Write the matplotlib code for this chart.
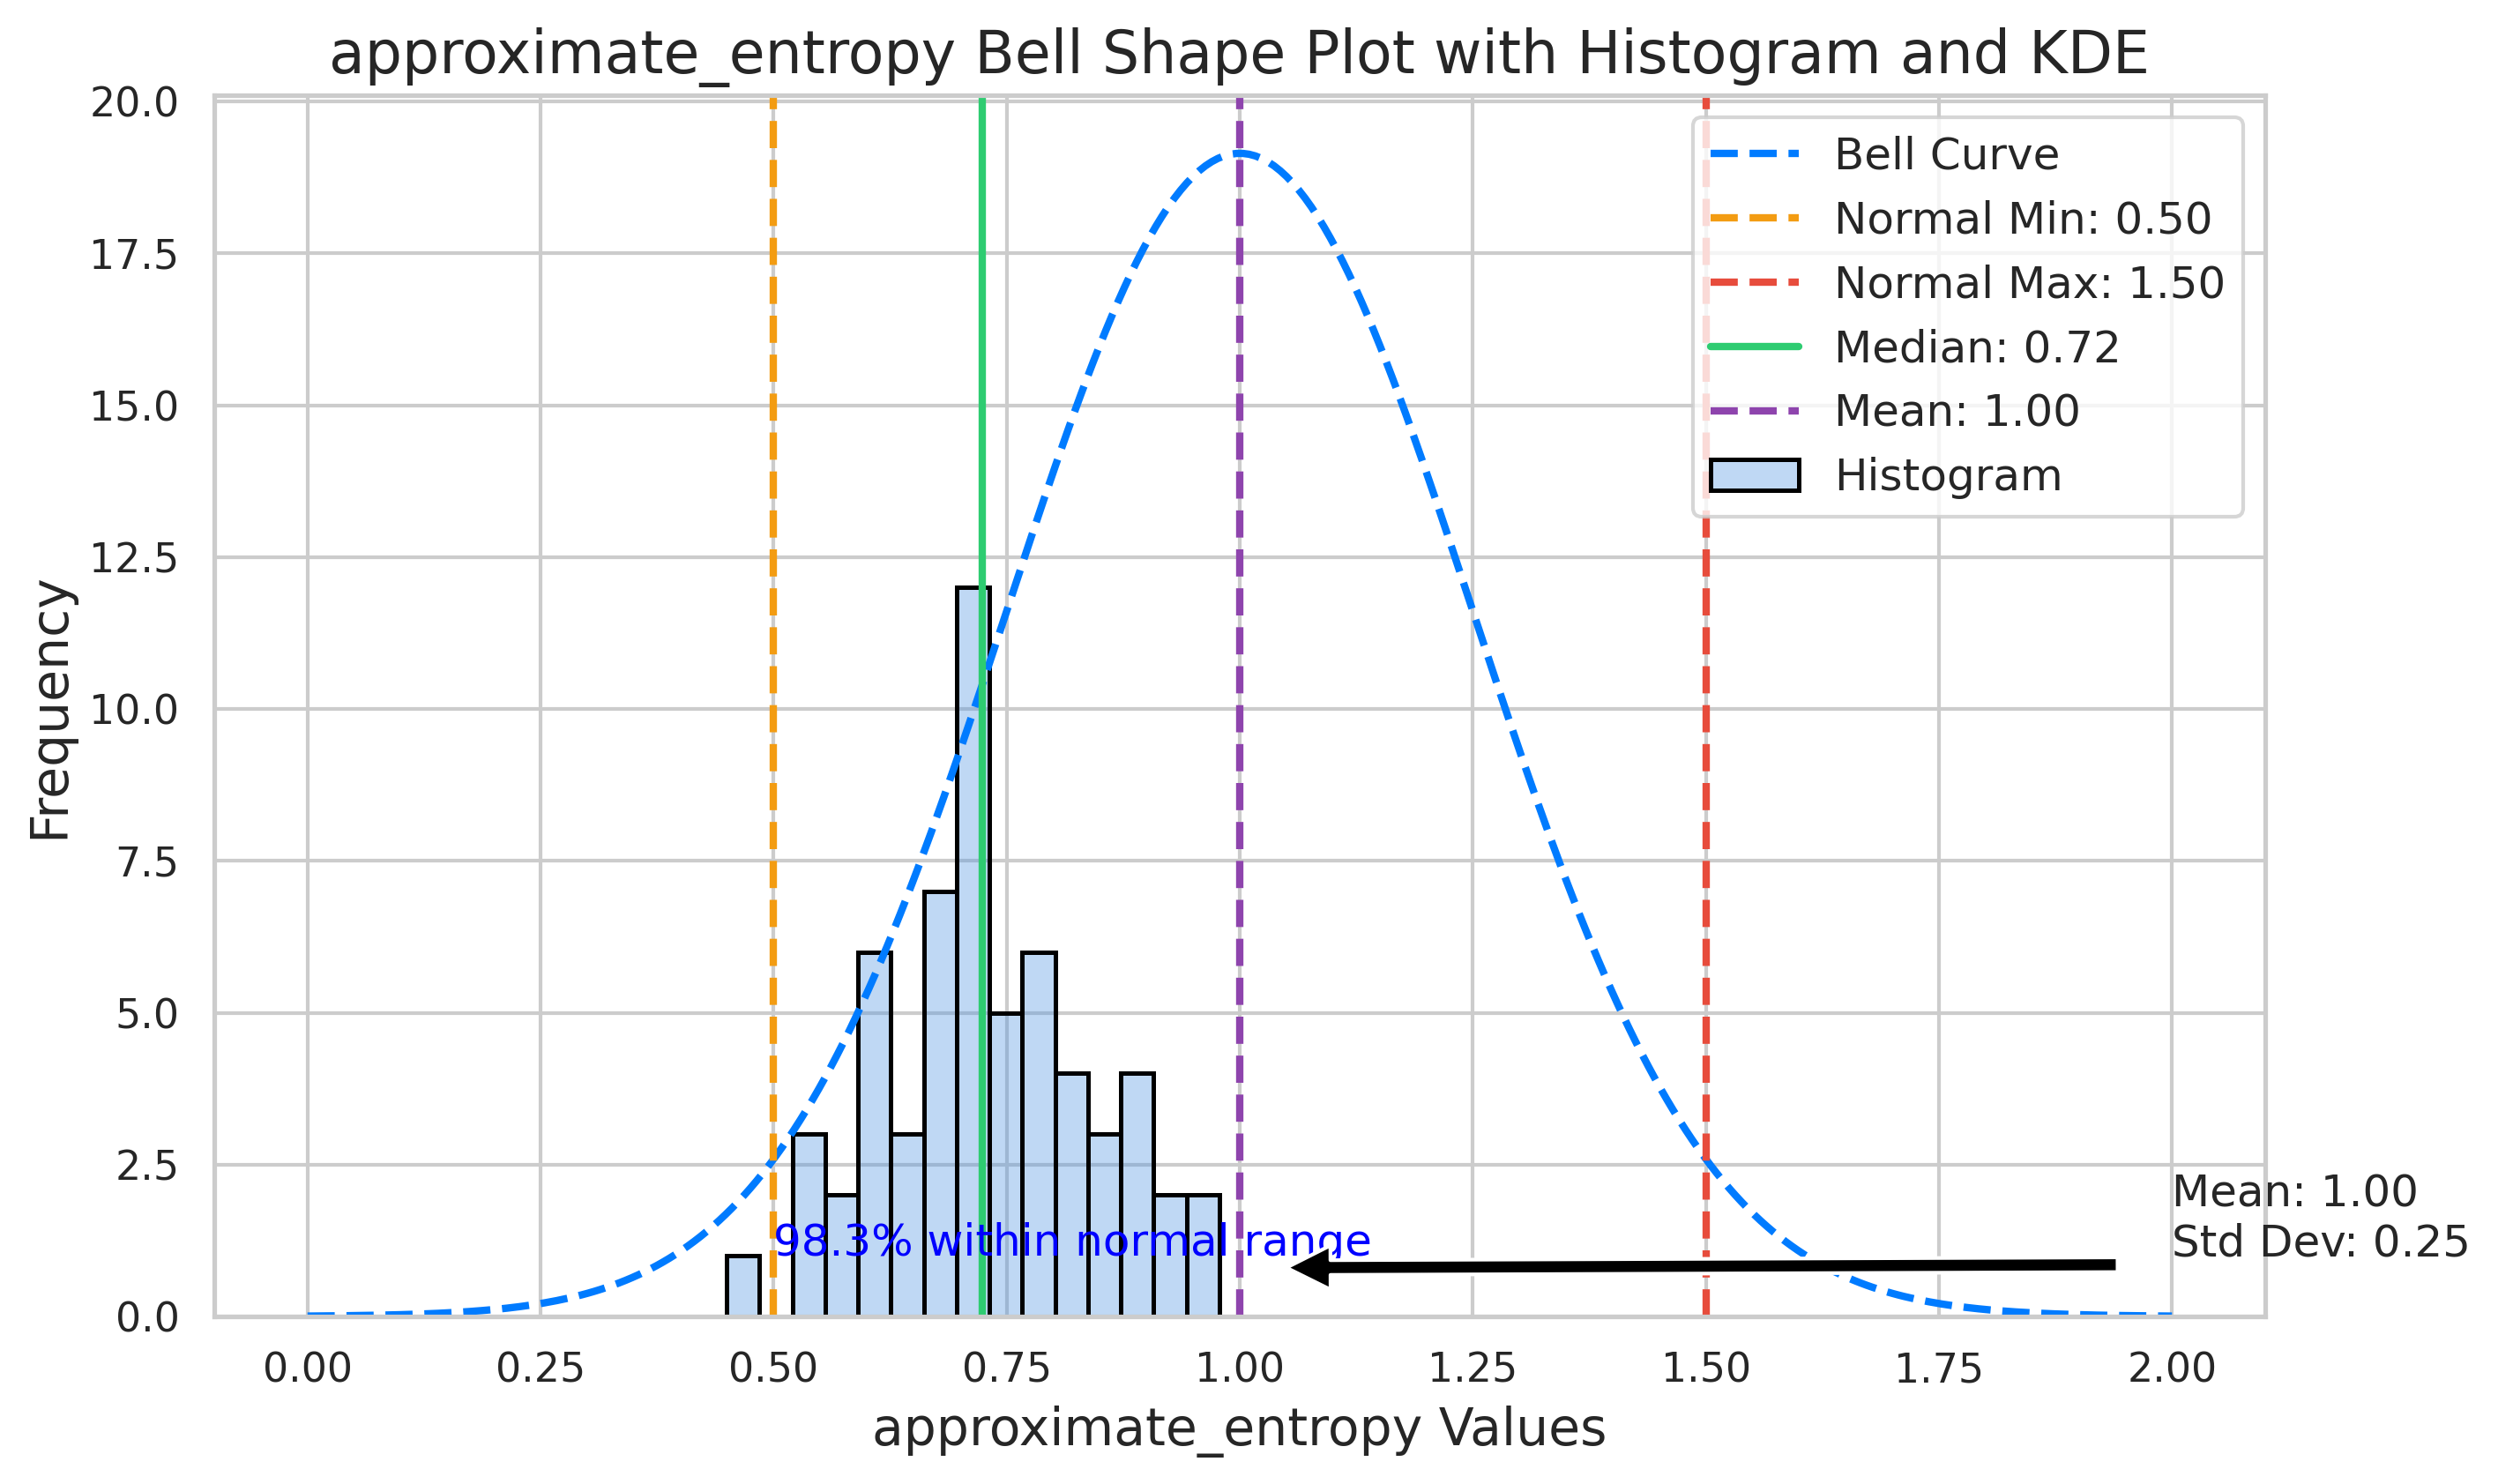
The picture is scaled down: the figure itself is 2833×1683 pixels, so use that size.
import numpy as np
import matplotlib.pyplot as plt
import seaborn as sns

sns.set_theme(style='whitegrid')
plt.rcParams['font.family'] = ['DejaVu Sans']

feature = 'approximate_entropy'

# histogram: 15 equal bins
bin_start = 0.4496
bin_width = 0.03523
counts = [1, 0, 3, 2, 6, 3, 7, 12, 5, 6, 4, 3, 4, 2, 2]

# reference values
normal_min = 0.50
normal_max = 1.50
median = 0.724
mean = 1.00
std = 0.25
within_pct = 98.3

fig, ax = plt.subplots(figsize=(2833 / 300, 1683 / 300), dpi=300)
fig.subplots_adjust(left=0.0858, right=0.9068, bottom=0.1129, top=0.9358)

# bell curve (normal pdf scaled to the tallest bin)
x = np.linspace(mean - 4 * std, mean + 4 * std, 300)
bell = np.exp(-0.5 * ((x - mean) / std) ** 2) / (std * np.sqrt(2 * np.pi)) * max(counts)
ax.plot(x, bell, ls='--', color='#007bff', lw=2, label='Bell Curve')

ax.axvline(normal_min, color='#f39c12', ls='--', lw=2, label=f'Normal Min: {normal_min:.2f}')
ax.axvline(normal_max, color='#e74c3c', ls='--', lw=2, label=f'Normal Max: {normal_max:.2f}')
ax.axvline(median, color='#2ecc71', ls='-', lw=2, label=f'Median: {median:.2f}')
ax.axvline(mean, color='#8e44ad', ls='--', lw=2, label=f'Mean: {mean:.2f}')

lefts = bin_start + bin_width * np.arange(len(counts))
ax.bar(lefts, counts, width=bin_width, align='edge',
       facecolor=(0.29, 0.565, 0.886, 0.35), edgecolor='black', linewidth=1.2,
       label='Histogram')

ax.text(normal_min, 1.0, f'{within_pct:.1f}% within normal range', color='blue', fontsize=12)
ax.annotate(f'Mean: {mean:.2f}\nStd Dev: {std:.2f}', xy=(mean, 0.8), xytext=(2.0, 1.0),
            arrowprops=dict(facecolor='black', shrink=0.05), fontsize=12)

ax.set_title(f'{feature} Bell Shape Plot with Histogram and KDE', fontsize=16)
ax.set_xlabel(f'{feature} Values', fontsize=14)
ax.set_ylabel('Frequency', fontsize=14)
ax.legend(loc='upper right', fontsize=12)

fig.savefig('out.png', dpi=300)
